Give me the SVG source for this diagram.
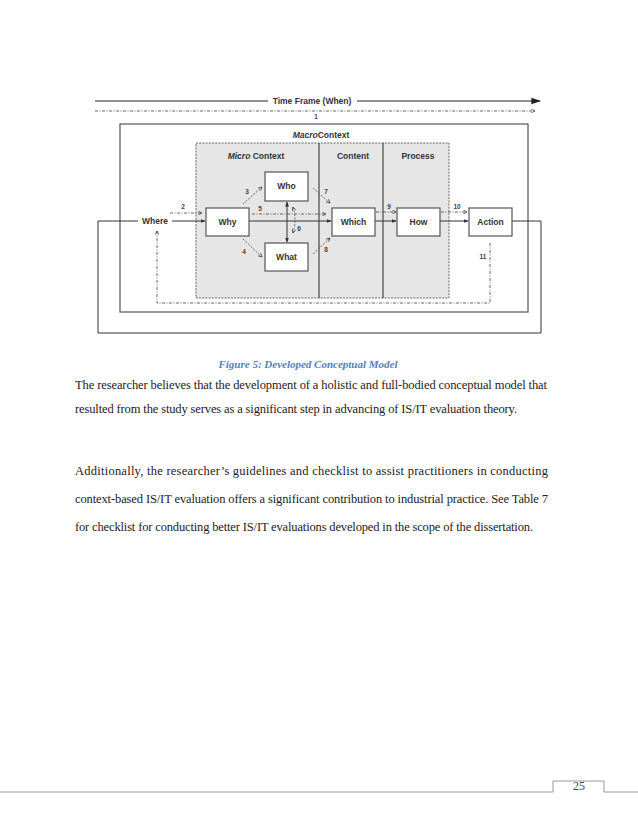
<svg xmlns="http://www.w3.org/2000/svg" width="638" height="826" viewBox="0 0 638 826">
<style>
.lbl{font-family:"Liberation Sans",Arial,sans-serif;font-weight:bold;font-size:8.5px;fill:#333;text-anchor:middle}
.num{font-family:"Liberation Sans",Arial,sans-serif;font-weight:bold;font-size:6.5px;fill:#444;text-anchor:middle}
.box{fill:#fff;stroke:#555;stroke-width:1.2}
.solid{fill:none;stroke:#333;stroke-width:1}
.dd{fill:none;stroke:#555;stroke-width:0.9;stroke-dasharray:3 1.5 1 1.5}
.ds{fill:none;stroke:#555;stroke-width:0.9;stroke-dasharray:2 1.5}
.body{font-family:"Liberation Serif","Times New Roman",serif;font-size:12.5px;fill:#222}
</style>
<defs>
<marker id="ah" viewBox="0 0 10 10" refX="9" refY="5" markerWidth="5" markerHeight="5" orient="auto-start-reverse"><path d="M0,1 L10,5 L0,9 z" fill="#333"/></marker>
<marker id="oh" viewBox="0 0 10 10" refX="9" refY="5" markerWidth="5" markerHeight="5" orient="auto-start-reverse"><path d="M1,1 L9,5 L1,9" fill="none" stroke="#444" stroke-width="1.8"/></marker>
<marker id="big" viewBox="0 0 10 10" refX="9" refY="5" markerWidth="8" markerHeight="8" orient="auto"><path d="M0,1.5 L10,5 L0,8.5 z" fill="#222"/></marker>
</defs>

<!-- containers -->
<g id="macro">
<rect x="120" y="124" width="408" height="188" fill="#fff" stroke="#555" stroke-width="1.2"/>
<text class="lbl" x="321" y="138"><tspan font-style="italic">Macro</tspan>Context</text>
</g>
<g id="shaded">
<rect x="196" y="143" width="253" height="155" fill="#e6e6e6" stroke="#555" stroke-width="0.9" stroke-dasharray="2 1.2"/>
<line x1="319" y1="143" x2="319" y2="298" stroke="#444" stroke-width="1.2"/>
<line x1="383" y1="143" x2="383" y2="298" stroke="#444" stroke-width="1.2"/>
<text class="lbl" x="256" y="159"><tspan font-style="italic">Micro</tspan> Context</text>
<text class="lbl" x="353" y="159">Content</text>
<text class="lbl" x="418" y="159">Process</text>
</g>

<!-- connectors -->
<g id="connectors">
<line x1="95" y1="101" x2="268" y2="101" stroke="#222" stroke-width="1.2"/>
<line x1="357" y1="101" x2="540" y2="101" stroke="#222" stroke-width="1.2" marker-end="url(#big)"/>
<line x1="95" y1="111" x2="535" y2="111" class="dd" marker-end="url(#oh)"/>
<polyline class="solid" points="138,221 98,221 98,333 541,333 541,221 512,221" stroke="#555" stroke-width="1.2"/>
<line class="solid" x1="172" y1="221" x2="205" y2="221" marker-end="url(#ah)"/>
<line class="solid" x1="249" y1="221" x2="331" y2="221" marker-end="url(#ah)"/>
<line class="solid" x1="375" y1="221" x2="396" y2="221" marker-end="url(#ah)"/>
<line class="solid" x1="440" y1="221" x2="468" y2="221" marker-end="url(#ah)"/>
<line class="solid" x1="287" y1="202" x2="287" y2="242" marker-start="url(#ah)" marker-end="url(#ah)"/>
<line class="dd" x1="170" y1="213" x2="202" y2="213" marker-end="url(#oh)"/>
<line class="ds" x1="243" y1="204" x2="262" y2="187" marker-end="url(#oh)"/>
<line class="ds" x1="243" y1="239" x2="262" y2="257" marker-end="url(#oh)"/>
<line class="dd" x1="252" y1="214" x2="326" y2="214" marker-end="url(#oh)"/>
<path class="ds" d="M293,207 Q297,220 293,233" marker-start="url(#oh)" marker-end="url(#oh)"/>
<line class="ds" x1="313" y1="188" x2="330" y2="203" marker-end="url(#oh)"/>
<line class="ds" x1="313" y1="254" x2="330" y2="238" marker-end="url(#oh)"/>
<line class="dd" x1="376" y1="212" x2="396" y2="212" marker-end="url(#oh)"/>
<line class="dd" x1="441" y1="212" x2="467" y2="212" marker-end="url(#oh)"/>
<polyline class="dd" points="490,243 490,303 157,303 157,231" marker-end="url(#oh)"/>
<text class="num" x="316" y="119">1</text>
<text class="num" x="183" y="209">2</text>
<text class="num" x="247" y="194">3</text>
<text class="num" x="244" y="254">4</text>
<text class="num" x="260" y="211">5</text>
<text class="num" x="299" y="231">6</text>
<text class="num" x="326" y="194">7</text>
<text class="num" x="326" y="252">8</text>
<text class="num" x="389" y="209">9</text>
<text class="num" x="457" y="209">10</text>
<text class="num" x="483" y="259">11</text>
</g>
<text class="lbl" x="312" y="104">Time Frame (When)</text>

<!-- nodes -->
<g id="where"><text class="lbl" x="155" y="224">Where</text></g>
<g id="why"><rect class="box" x="206" y="208" width="43" height="28"/><text class="lbl" x="227.5" y="225">Why</text></g>
<g id="who"><rect class="box" x="265" y="172" width="43" height="29"/><text class="lbl" x="286.5" y="189">Who</text></g>
<g id="what"><rect class="box" x="265" y="243" width="43" height="28"/><text class="lbl" x="286.5" y="260">What</text></g>
<g id="which"><rect class="box" x="332" y="208" width="43" height="28"/><text class="lbl" x="353.5" y="225">Which</text></g>
<g id="how"><rect class="box" x="397" y="208" width="43" height="28"/><text class="lbl" x="418.5" y="225">How</text></g>
<g id="action"><rect class="box" x="469" y="208" width="43" height="28"/><text class="lbl" x="490.5" y="225">Action</text></g>

<!-- caption and text -->
<text x="308" y="368" text-anchor="middle" font-family="'Liberation Serif','Times New Roman',serif" font-size="11" font-weight="bold" font-style="italic" fill="#4f81bd">Figure 5: Developed Conceptual Model</text>
<text class="body" x="75" y="389" textLength="472" lengthAdjust="spacing">The researcher believes that the development of a holistic and full-bodied conceptual model that</text>
<text class="body" x="75" y="413" textLength="442" lengthAdjust="spacing">resulted from the study serves as a significant step in advancing of IS/IT evaluation theory.</text>
<text class="body" x="75" y="475" textLength="473" lengthAdjust="spacing">Additionally, the researcher’s guidelines and checklist to assist practitioners in conducting</text>
<text class="body" x="75" y="503" textLength="473" lengthAdjust="spacing">context-based IS/IT evaluation offers a significant contribution to industrial practice. See Table 7</text>
<text class="body" x="75" y="531" textLength="458" lengthAdjust="spacing">for checklist for conducting better IS/IT evaluations developed in the scope of the dissertation.</text>

<!-- footer -->
<polyline points="0,792 553,792 553,781 604,781 604,792 638,792" fill="none" stroke="#999" stroke-width="1"/>
<text x="579" y="790" text-anchor="middle" font-family="'Liberation Serif','Times New Roman',serif" font-size="12" fill="#444">25</text>
</svg>
